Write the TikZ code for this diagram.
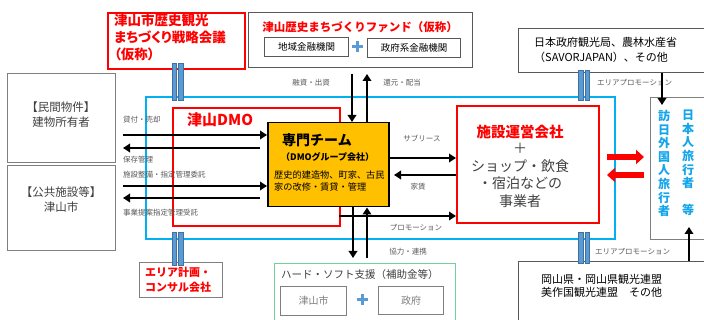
\documentclass[tikz,border=0pt]{standalone}
\usepackage{fontspec}
\setmainfont{Noto Sans CJK JP}
\newfontfamily\paltfont{Noto Sans CJK JP}[RawFeature=+palt]
\usetikzlibrary{arrows.meta,calc}
\definecolor{myred}{HTML}{FF0000}
\definecolor{skyb}{HTML}{00B0F0}
\definecolor{tourc}{HTML}{14A5EA}
\definecolor{gboxc}{HTML}{7F7F7F}
\definecolor{dboxc}{HTML}{595959}
\definecolor{txtc}{HTML}{404040}
\definecolor{lblc}{HTML}{595959}
\definecolor{orangec}{HTML}{FFC000}
\definecolor{greenc}{HTML}{6FD39A}
\definecolor{plusc}{HTML}{5B9BD5}
\definecolor{barc}{HTML}{5B9BD5}
\definecolor{barline}{HTML}{41719C}
\newcommand\dblbar[3]{%
  \filldraw[fill=barc, draw=barline, line width=0.4pt] (#1-5.5,#2) rectangle (#1-1,#3);
  \filldraw[fill=barc, draw=barline, line width=0.4pt] (#1+1,#2) rectangle (#1+5.5,#3);}
\newcommand\plussign[2]{%
  \draw[plusc, line width=3pt] (#1-5.5,#2) -- (#1+5.5,#2) (#1,#2-5.5) -- (#1,#2+5.5);}
\begin{document}
\begin{tikzpicture}[x=1pt,y=-1pt,
  box/.style={draw=gboxc, line width=1pt, rectangle, inner sep=0pt, anchor=north west},
  redbox/.style={box, draw=myred, line width=2pt},
  lbl/.style={font=\fontsize{7.5}{9}\selectfont, text=lblc, inner sep=0pt},
  arr/.style={line width=2.6pt, -{Triangle[length=7pt,width=8.5pt]}},
  redarr/.style={line width=6pt, myred, -{Triangle[length=8pt,width=14pt]}},
  txt/.style={inner sep=0pt, text=txtc}]
\useasboundingbox (0,0) rectangle (704,320);
\fill[white] (0,0) rectangle (704,320);

% boxes
\node[redbox, minimum width=137pt, minimum height=56pt] (council) at (107,12) {};
\node[box, draw=dboxc, minimum width=224pt, minimum height=55pt] (fund) at (248,12) {};
\node[box, draw=dboxc, minimum width=84pt, minimum height=19pt] (fundA) at (264,37) {};
\node[box, draw=dboxc, minimum width=93pt, minimum height=19pt] (fundB) at (367,38) {};
\node[box, draw=dboxc, minimum width=200pt, minimum height=44pt] (gov) at (518,28) {};
\node[box, minimum width=108pt, minimum height=89pt] (priv) at (7,73) {};
\node[box, minimum width=108pt, minimum height=85pt] (pub) at (7,165) {};
\node[box, draw=skyb, line width=1.6pt, minimum width=469pt, minimum height=142pt] (blue) at (145,96) {};
\node[redbox, minimum width=167pt, minimum height=118pt] (dmo) at (172,107) {};
\node[box, draw=black, line width=1.5pt, fill=orangec, minimum width=121pt, minimum height=84pt] (team) at (267,122) {};
\node[redbox, minimum width=142pt, minimum height=117pt] (fac) at (456,105) {};
\node[box, minimum width=70pt, minimum height=142pt] (tour) at (650,97) {};
\node[box, minimum width=83pt, minimum height=35pt] (area) at (139,262) {};
\node[box, draw=greenc, line width=1.2pt, minimum width=181pt, minimum height=70pt] (sup) at (274,263) {};
\node[box, minimum width=66pt, minimum height=29pt] (supA) at (280,286) {};
\node[box, minimum width=65pt, minimum height=28pt] (supB) at (378,286) {};
\node[box, draw=dboxc, minimum width=200pt, minimum height=70pt] (okay) at (518,261) {};

% texts
\node[inner sep=0pt, anchor=north west, align=left, text=myred, font=\paltfont\fontsize{13.5}{17}\selectfont\bfseries] (councilT) at (114,14) {津山市歴史観光\\まちづくり戦略会議\\（仮称）};
\node[inner sep=0pt, text=myred, font=\fontsize{11.5}{13}\selectfont\bfseries] (fundT) at (360,27) {津山歴史まちづくりファンド（仮称）};
\node[txt, font=\fontsize{9.5}{11}\selectfont, text=black] (fundAT) at (fundA.center) {地域金融機関};
\node[txt, font=\fontsize{9.5}{11}\selectfont, text=black] (fundBT) at (fundB.center) {政府系金融機関};
\plussign{357}{47}
\node[txt, anchor=west, align=left, text=black, font=\fontsize{11}{15}\selectfont] (govT) at (534,50) {日本政府観光局、農林水産省\\（SAVORJAPAN）、その他};
\node[txt, align=center, font=\fontsize{11.5}{15}\selectfont] (privT) at (61,115) {【民間物件】\\建物所有者};
\node[txt, align=center, font=\fontsize{11.5}{15}\selectfont] (pubT) at (61,200) {【公共施設等】\\津山市};
\node[inner sep=0pt, anchor=west, text=myred, font=\fontsize{15}{17}\selectfont\bfseries] (dmoT) at (187,120) {津山DMO};
\node[inner sep=0pt, anchor=west, text=black, font=\fontsize{14}{16}\selectfont\bfseries] (teamT1) at (282,140) {専門チーム};
\node[inner sep=0pt, anchor=west, text=black, font=\fontsize{9}{11}\selectfont\bfseries] (teamT2) at (281,157) {（DMOグループ会社）};
\node[inner sep=0pt, anchor=north west, align=left, text=black, font=\fontsize{9.2}{12}\selectfont] (teamT3) at (274,171) {歴史的建造物、町家、古民\\家の改修・賃貸・管理};
\node[inner sep=0pt, text=myred, font=\fontsize{14.5}{17}\selectfont\bfseries] (facT1) at (520,132) {施設運営会社};
\node[txt, align=center, font=\fontsize{14}{17.5}\selectfont, anchor=north] (facT2) at (520,143) {＋\\ショップ・飲食\\・宿泊などの\\事業者};
\node[inner sep=0pt, anchor=north, align=center, text=tourc, font=\fontsize{12}{13.6}\selectfont\bfseries] (tourA) at (664,110) {訪\\日\\外\\国\\人\\旅\\行\\者};
\node[inner sep=0pt, anchor=north, align=center, text=tourc, font=\fontsize{12}{13.6}\selectfont\bfseries] (tourB) at (688,110) {日\\本\\人\\旅\\行\\者\\　\\等};
\node[inner sep=0pt, anchor=west, align=left, text=myred, font=\fontsize{11}{15}\selectfont\bfseries] (areaT) at (145,280) {エリア計画・\\コンサル会社};
\node[txt, anchor=west, font=\fontsize{10.5}{12}\selectfont] (supT) at (281,275) {ハード・ソフト支援（補助金等）};
\node[txt, font=\fontsize{10}{12}\selectfont, text=gboxc] (supAT) at (supA.center) {津山市};
\node[txt, font=\fontsize{10}{12}\selectfont, text=gboxc] (supBT) at (supB.center) {政府};
\plussign{362}{300}
\node[txt, anchor=west, align=left, text=black, font=\fontsize{11}{13.5}\selectfont] (okayT) at (541,286) {岡山県・岡山県観光連盟\\美作国観光連盟　その他};

% small labels
\node[lbl] (l1) at (311,83) {融資・出資};
\node[lbl] (l2) at (402,83) {還元・配当};
\node[lbl, anchor=west] (l3) at (597,83) {エリアプロモーション};
\node[lbl, anchor=west] (l4) at (595,252) {エリアプロモーション};
\node[lbl, anchor=west] (l5) at (123,120) {貸付・売却};
\node[lbl, anchor=west] (l6) at (123,160) {保存管理};
\node[lbl, anchor=west] (l7) at (123,175) {施設整備・指定管理委託};
\node[lbl, anchor=west] (l8) at (123,213) {事業提案指定管理受託};
\node[lbl] (l9) at (422,138) {サブリース};
\node[lbl] (l10) at (418,187) {家賃};
\node[lbl] (l11) at (416,228) {プロモーション};
\node[lbl] (l12) at (408,252) {協力・連携};

% coordinates
\coordinate (a1) at (123,135);
\coordinate (a2) at (260,148);
\coordinate (a2e) at (123,148);
\coordinate (a3) at (123,186);
\coordinate (a4) at (260,198);
\coordinate (a4e) at (123,198);
\coordinate (vL) at (352,0);
\coordinate (vR) at (367,0);
\coordinate (bL) at (353,258);
\coordinate (bR) at (367,258);
\coordinate (s1) at (388,158);
\coordinate (r1) at (394,175);
\coordinate (p1) at (339,216);
\coordinate (gd) at (662,105);
\coordinate (gx) at (662,0);
\coordinate (ou) at (689,227);
\coordinate (ox) at (689,0);
\coordinate (ra1) at (607,157);
\coordinate (ra1e) at (644,157);
\coordinate (ra2) at (644,175);
\coordinate (ra2e) at (607,175);

% connectors
\draw[arr] (a1) -- (team.west |- a1);
\draw[arr] (a2) -- (a2e);
\draw[arr] (a3) -- (team.west |- a3);
\draw[arr] (a4) -- (a4e);
\draw[arr, shorten <=6pt] (fund.south -| vL) -- (team.north -| vL);
\draw[arr, shorten >=6pt] (team.north -| vR) -- (fund.south -| vR);
\draw[arr] (team.south -| bL) -- (bL);
\draw[arr] (bR) -- (team.south -| bR);
\draw[arr] (s1) -- (fac.west |- s1);
\draw[arr] (fac.west |- r1) -- (r1);
\draw[arr] (p1) -- (fac.west |- p1);
\draw[arr] (gov.south -| gx) -- (gd);
\draw[arr] (okay.north -| ox) -- (ou);
\draw[redarr] (ra1) -- (ra1e);
\draw[redarr] (ra2) -- (ra2e);

% double bars
\dblbar{177.5}{63}{100}
\dblbar{177.5}{232}{265}
\dblbar{584}{70}{100}
\dblbar{584}{232}{263}
\end{tikzpicture}
\end{document}
